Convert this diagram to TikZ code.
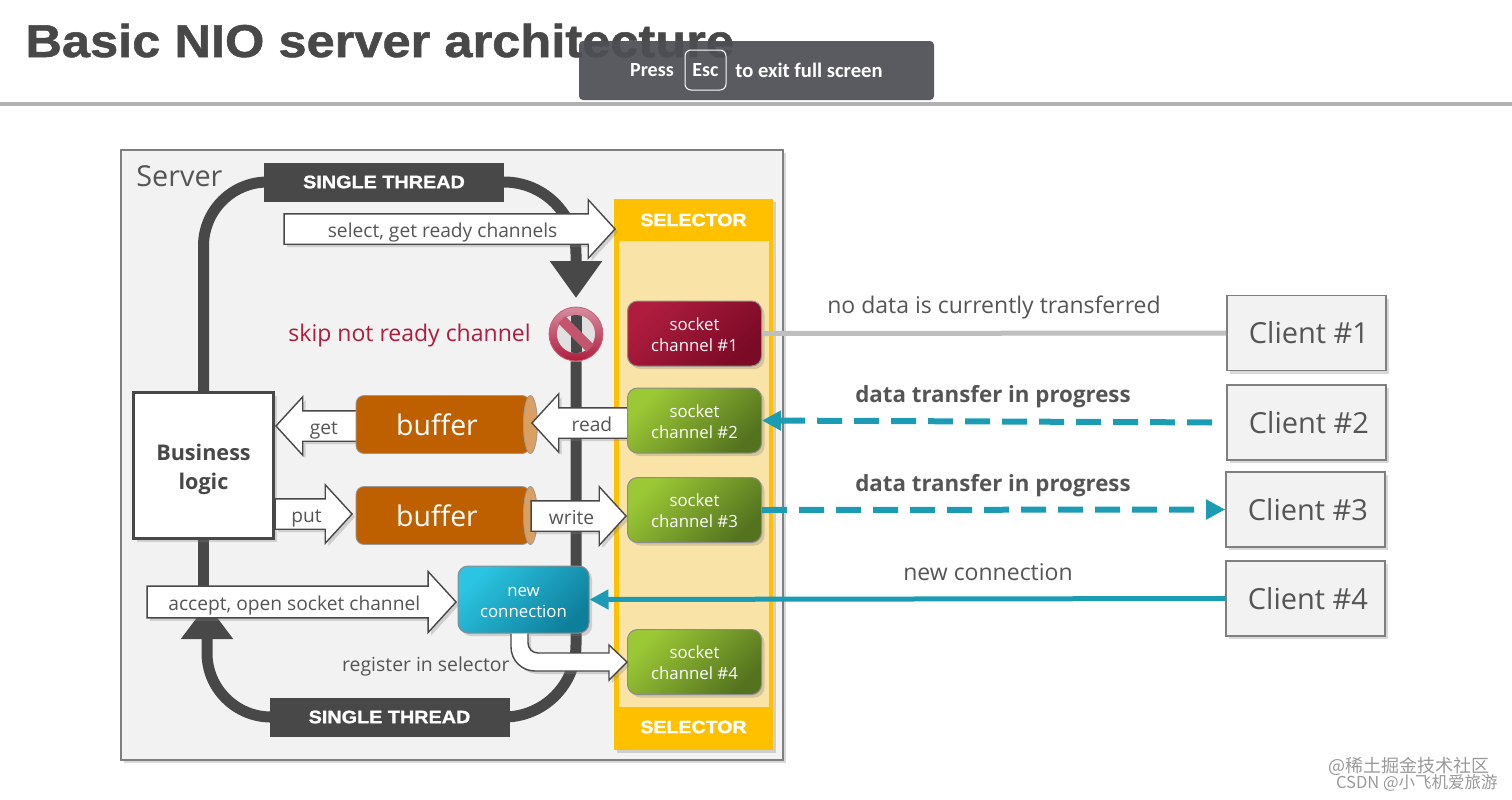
\documentclass[tikz,border=0pt]{standalone}
\usepackage{fontspec}
\setmainfont{Open Sans}
\newfontfamily\titlefont{Liberation Sans}
\newfontfamily\headfont[FakeStretch=1.1,FakeBold=1.2]{Liberation Sans}
\newfontfamily\cjkfont{Noto Sans CJK SC}
\newfontfamily\barfont{Carlito}
\usepackage{tikz}
\usetikzlibrary{arrows.meta,positioning,shapes.geometric,shapes.arrows,shadows,backgrounds,calc}
\definecolor{Ink}{HTML}{484848}
\definecolor{Txt}{HTML}{555555}
\definecolor{Bar}{HTML}{4D4F54}
\definecolor{Pale}{HTML}{F2F2F2}
\definecolor{Edge}{HTML}{7F7F7F}
\definecolor{Amber}{HTML}{FFC000}
\definecolor{Cream}{HTML}{F9E3A6}
\definecolor{Rust}{HTML}{BF6000}
\definecolor{RustEnd}{HTML}{DA9F62}
\definecolor{Wine}{HTML}{AF1C3E}
\definecolor{WineDark}{HTML}{7A0A26}
\definecolor{Leaf}{HTML}{9BC935}
\definecolor{Moss}{HTML}{55731F}
\definecolor{Sky}{HTML}{2BC4E2}
\definecolor{Teal}{HTML}{1C9CB4}
\definecolor{TealDark}{HTML}{0E7F9B}
\begin{document}
\begin{tikzpicture}[
    x=.5pt,y=-.5pt,
    softshadow/.style={drop shadow={shadow xshift=1.5pt,shadow yshift=-1.5pt,opacity=.3}},
    threadband/.style={fill=Ink,inner sep=0pt,minimum width=120pt,minimum height=19.5pt,
      text=white,font=\fontsize{9}{9}\selectfont\headfont\bfseries},
    selectorlabel/.style={text=white,inner sep=0pt,font=\fontsize{8.9}{10}\selectfont\headfont\bfseries},
    sockbox/.style={rounded corners=5pt,draw=black!45,line width=.5pt,minimum width=67pt,
      minimum height=32.5pt,align=center,inner sep=0pt,text=white,softshadow,shading angle=45,
      font=\fontsize{8.4}{10.4}\selectfont},
    clientbox/.style={draw=Edge,line width=.8pt,fill=Pale,minimum width=79.5pt,minimum height=37.5pt,
      inner sep=0pt,text=Txt,softshadow,font=\fontsize{14.5}{15}\selectfont},
    blockarrow/.style={shape=single arrow,draw=Ink,line width=.7pt,fill=white,text=Txt,
      inner ysep=1.25pt,inner xsep=0pt,text height=10pt,text depth=2pt,anchor=tip,
      single arrow tip angle=95,single arrow head extend=7pt,minimum width=29pt,
      softshadow,font=\fontsize{9.6}{9.6}\selectfont},
    bufferbox/.style={rounded corners=4pt,draw=black!40,line width=.4pt,fill=Rust,
      minimum width=87pt,minimum height=29pt,inner sep=0pt,text=white,
      font=\fontsize{14.2}{15}\selectfont},
    bufferend/.style={shape=ellipse,draw=black!40,line width=.4pt,fill=RustEnd,
      minimum width=7pt,minimum height=29pt,inner sep=0pt},
    looptrack/.style={draw=Ink,line width=5.5pt},
    linklabel/.style={text=Txt,inner sep=0pt,font=\fontsize{11.5}{12}\selectfont},
    dashlink/.style={draw=Teal,line width=3pt,dash pattern=on 12.5pt off 6pt,
      -{Triangle[length=9.5pt,width=9.5pt]}}
  ]
    \useasboundingbox (0,0) rectangle (1512,799);
    % top bar
    \node[anchor=base west,inner sep=0pt,text=Ink] (title) at (25,57)
      {\fontsize{23}{23}\selectfont\headfont\bfseries Basic NIO server architecture};
    \node[fill=black!30,minimum width=756pt,minimum height=2pt,inner sep=0pt] (rule) at (756,103.5) {};
    \node[rounded corners=2pt,fill=Bar,fill opacity=.93,minimum width=177.5pt,minimum height=29.5pt,
      inner sep=0pt] (bar) at (756.5,70.5) {};
    \node[text=white,inner sep=0pt,font=\fontsize{10}{10}\selectfont\barfont\bfseries] (press) at (652,70) {Press};
    \node[draw=white,line width=.5pt,rounded corners=3pt,minimum width=20.5pt,minimum height=20pt,inner sep=0pt,
      text=white,font=\fontsize{10}{10}\selectfont\barfont\bfseries] (esc) at (705.5,70) {Esc};
    \node[text=white,inner sep=0pt,font=\fontsize{10.3}{10}\selectfont\barfont\bfseries] (leave) at (809,70) {to exit full screen};

    \node[anchor=west,inner sep=0pt,text=Txt,font=\fontsize{14.4}{15}\selectfont] (servername) at (136,176) {Server};

    % selector column
    \node[fill=Amber,minimum width=79.5pt,minimum height=275.5pt,inner sep=0pt,softshadow] (selector) at (693.5,474.5) {};
    \node[fill=Cream,minimum width=75pt,minimum height=233pt,inner sep=0pt] (panel) at (693.5,474) {};
    \node[selectorlabel] (seltop) at (693.5,220) {SELECTOR};
    \node[selectorlabel] (selbot) at (693.5,727) {SELECTOR};

    \node[threadband] (threadtop) at (384,182) {SINGLE THREAD};
    \node[threadband] (threadbot) at (389.5,717) {SINGLE THREAD};

    \node[draw=Ink,line width=1.6pt,fill=white,minimum width=70pt,minimum height=73pt,align=center,inner sep=0pt,
      text=Ink,softshadow,font=\fontsize{10.8}{14.6}\selectfont\bfseries] (logic) at (203.5,465.5) {\rule{0pt}{12pt}Business\\logic};

    \node[blockarrow,shape border rotate=180,minimum height=45pt] (get) at (275,426) {get\hspace*{4pt}};
    \node[bufferbox] (bufferin) at (443,424.5) {buffer\hspace*{6pt}};
    \node[bufferend] (bufferinend) at (bufferin.east) {};
    \node[bufferbox] (bufferout) at (443,515.5) {buffer\hspace*{6pt}};
    \node[bufferend] (bufferoutend) at (bufferout.east) {};
    \node[blockarrow,shape border rotate=180,minimum height=50pt] (read) at (531,423) {\hspace*{3pt}read};
    \node[blockarrow,minimum height=47.5pt] (write) at (627,516) {write};
    \node[blockarrow,minimum height=38.5pt] (put) at (353,514) {put};
    \node[blockarrow,minimum height=165.5pt] (select) at (616,229) {select, get ready channels};
    \node[blockarrow,minimum height=154.5pt,minimum width=30.5pt] (accept) at (457,602) {accept, open socket channel};

    % socket channels
    \foreach \n/\y/\ca/\cb in {1/333.5/Wine/WineDark,2/420.5/Leaf/Moss,3/510/Leaf/Moss,4/662/Leaf/Moss}
      \node[sockbox,left color=\ca,right color=\cb,shading angle=45] (channel\n) at (694.5,\y)
        {\rule{0pt}{7.3pt}socket\\channel \#\n};
    \node[sockbox,left color=Sky,right color=TealDark,shading angle=45,minimum width=65.5pt,minimum height=33.5pt]
      (newconn) at (523.5,599.5) {\rule{0pt}{7.3pt}new\\connection};

    % register arrow
    \draw[draw=Ink,line width=.7pt,fill=white,softshadow]
      ($(newconn.south)+(-12.5,0)$) [rounded corners=12pt] -- (511,671) [sharp corners] -- (609,671) -- (609,680)
      -- (channel4.west) -- (609,645) -- (609,653) [rounded corners=5pt] -- (528,653) [sharp corners] -- ($(newconn.south)+(4.5,0)$);
    \node[linklabel,anchor=east,font=\fontsize{9.7}{10}\selectfont] (register) at (510,666) {register in selector};

    % no entry sign
    \node[circle,minimum size=27pt,inner sep=0pt,draw=Wine!70,shade,top color=Wine!50!white,bottom color=Wine] (noentry) at (576,334) {};
    \fill[black!12] (noentry.center) circle (9.5pt);
    \begin{scope}
      \clip (noentry.center) circle (9.5pt);
      \fill[Ink] ($(noentry.center)+(-5.5,-20)$) rectangle ($(noentry.center)+(5.5,20)$);
    \end{scope}
    \fill[Wine!75!white,rotate around={-45:(noentry.center)}] ($(noentry.center)+(-20,-5)$) rectangle ($(noentry.center)+(20,5)$);
    \node[anchor=east,inner sep=0pt,text=Wine,font=\fontsize{11.5}{12}\selectfont] (skip) at (531,336) {skip not ready channel};

    % thread loop
    \begin{scope}[on background layer]
      \node[draw=Edge,line width=.7pt,fill=Pale,minimum width=331pt,minimum height=305pt,
        inner sep=0pt,softshadow] (server) at (452,455) {};
      \draw[looptrack,rounded corners=32pt] (threadtop.west) -| (logic.north);
      \draw[looptrack,rounded corners=36pt,-{Triangle[length=18.5pt,width=25pt]}] (threadtop.east) -| (576,298) coordinate (looptip);
      \draw[looptrack,rounded corners=36pt] (noentry.south) |- (threadbot.east);
      \draw[looptrack,rounded corners=32pt,-{Triangle[length=17.5pt,width=25pt]}] (threadbot.west) -| (207,604) coordinate (accepttip);
      \draw[looptrack] (logic.south) -- (accept.west -| logic.south);
    \end{scope}

    % clients
    \foreach \n/\x/\y in {1/1306.5/333,2/1306.5/422.5,3/1305.5/509.5,4/1305.5/598.5}
      \node[clientbox] (client\n) at (\x,\y) {\hspace*{2.5pt}Client \#\n};
    \draw[draw=black!25,line width=2.5pt] (client1.west) -- (channel1.east);
    \draw[dashlink,shorten <=7pt] (client2.west) -- (channel2.east);
    \draw[dashlink] (channel3.east) -- (client3.west);
    \draw[draw=Teal,line width=2.5pt,-{Triangle[length=9.5pt,width=9.5pt]}] (client4.west) -- (newconn.east);

    \node[linklabel] (nodata) at (994,307) {no data is currently transferred};
    \node[linklabel,font=\fontsize{11.15}{12}\selectfont\bfseries] (transferin) at (993,397) {data transfer in progress};
    \node[linklabel,font=\fontsize{11.15}{12}\selectfont\bfseries] (transferout) at (993,486) {data transfer in progress};
    \node[linklabel] (newlabel) at (988,572) {new connection};

    % watermark
    \node[anchor=east,inner sep=0pt,text=black!40,font=\fontsize{9}{9}\selectfont\cjkfont] (markone) at (1490,766) {@稀土掘金技术社区};
    \node[anchor=east,inner sep=0pt,text=black!40,font=\fontsize{8.25}{9}\selectfont\cjkfont] (marktwo) at (1498,783) {CSDN @小飞机爱旅游};
  \end{tikzpicture}
\end{document}
